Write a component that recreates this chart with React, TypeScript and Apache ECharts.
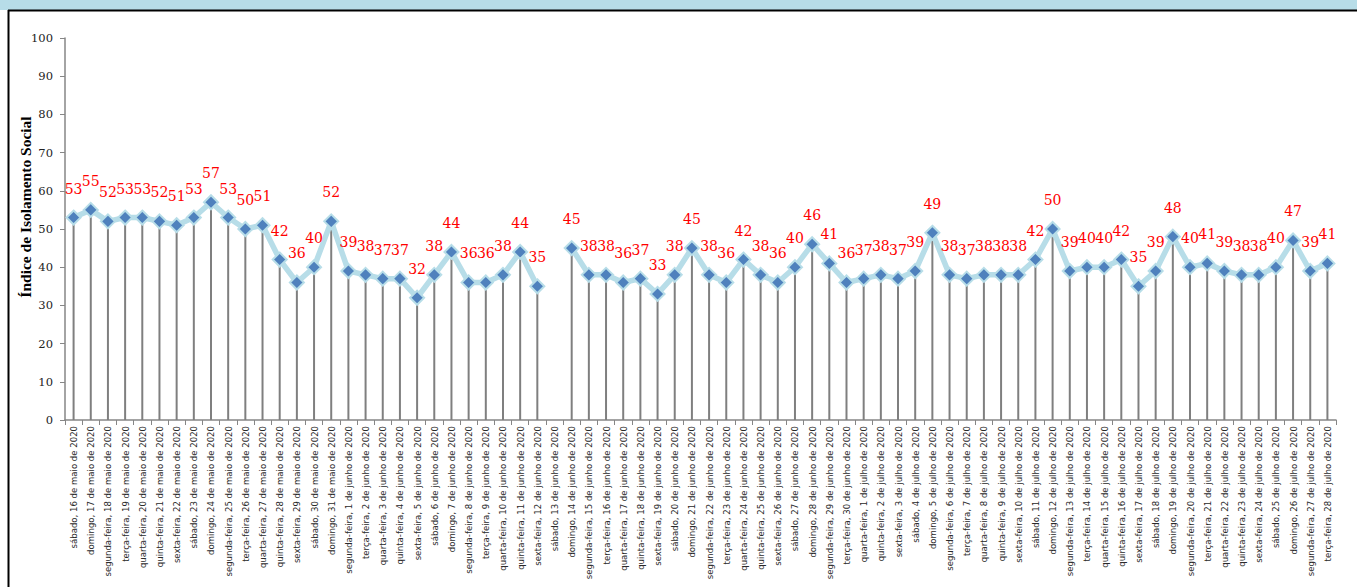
import React, { useEffect, useRef } from "react";
import * as echarts from "echarts";

const categories: string[] = [
  "sábado, 16 de maio de 2020",
  "domingo, 17 de maio de 2020",
  "segunda-feira, 18 de maio de 2020",
  "terça-feira, 19 de maio de 2020",
  "quarta-feira, 20 de maio de 2020",
  "quinta-feira, 21 de maio de 2020",
  "sexta-feira, 22 de maio de 2020",
  "sábado, 23 de maio de 2020",
  "domingo, 24 de maio de 2020",
  "segunda-feira, 25 de maio de 2020",
  "terça-feira, 26 de maio de 2020",
  "quarta-feira, 27 de maio de 2020",
  "quinta-feira, 28 de maio de 2020",
  "sexta-feira, 29 de maio de 2020",
  "sábado, 30 de maio de 2020",
  "domingo, 31 de maio de 2020",
  "segunda-feira, 1 de junho de 2020",
  "terça-feira, 2 de junho de 2020",
  "quarta-feira, 3 de junho de 2020",
  "quinta-feira, 4 de junho de 2020",
  "sexta-feira, 5 de junho de 2020",
  "sábado, 6 de junho de 2020",
  "domingo, 7 de junho de 2020",
  "segunda-feira, 8 de junho de 2020",
  "terça-feira, 9 de junho de 2020",
  "quarta-feira, 10 de junho de 2020",
  "quinta-feira, 11 de junho de 2020",
  "sexta-feira, 12 de junho de 2020",
  "sábado, 13 de junho de 2020",
  "domingo, 14 de junho de 2020",
  "segunda-feira, 15 de junho de 2020",
  "terça-feira, 16 de junho de 2020",
  "quarta-feira, 17 de junho de 2020",
  "quinta-feira, 18 de junho de 2020",
  "sexta-feira, 19 de junho de 2020",
  "sábado, 20 de junho de 2020",
  "domingo, 21 de junho de 2020",
  "segunda-feira, 22 de junho de 2020",
  "terça-feira, 23 de junho de 2020",
  "quarta-feira, 24 de junho de 2020",
  "quinta-feira, 25 de junho de 2020",
  "sexta-feira, 26 de junho de 2020",
  "sábado, 27 de junho de 2020",
  "domingo, 28 de junho de 2020",
  "segunda-feira, 29 de junho de 2020",
  "terça-feira, 30 de junho de 2020",
  "quarta-feira, 1 de julho de 2020",
  "quinta-feira, 2 de julho de 2020",
  "sexta-feira, 3 de julho de 2020",
  "sábado, 4 de julho de 2020",
  "domingo, 5 de julho de 2020",
  "segunda-feira, 6 de julho de 2020",
  "terça-feira, 7 de julho de 2020",
  "quarta-feira, 8 de julho de 2020",
  "quinta-feira, 9 de julho de 2020",
  "sexta-feira, 10 de julho de 2020",
  "sábado, 11 de julho de 2020",
  "domingo, 12 de julho de 2020",
  "segunda-feira, 13 de julho de 2020",
  "terça-feira, 14 de julho de 2020",
  "quarta-feira, 15 de julho de 2020",
  "quinta-feira, 16 de julho de 2020",
  "sexta-feira, 17 de julho de 2020",
  "sábado, 18 de julho de 2020",
  "domingo, 19 de julho de 2020",
  "segunda-feira, 20 de julho de 2020",
  "terça-feira, 21 de julho de 2020",
  "quarta-feira, 22 de julho de 2020",
  "quinta-feira, 23 de julho de 2020",
  "sexta-feira, 24 de julho de 2020",
  "sábado, 25 de julho de 2020",
  "domingo, 26 de julho de 2020",
  "segunda-feira, 27 de julho de 2020",
  "terça-feira, 28 de julho de 2020",
];

const valuesMay: (number | null)[] = [53, 55, 52, 53, 53, 52, 51, 53, 57, 53, 50, 51, 42, 36, 40, 52];
const valuesJune: (number | null)[] = [
  39, 38, 37, 37, 32, 38, 44, 36, 36, 38, 44, 35, null, 45, 38, 38, 36, 37, 33, 38,
  45, 38, 36, 42, 38, 36, 40, 46, 41, 36,
];
const valuesJuly: (number | null)[] = [
  37, 38, 37, 39, 49, 38, 37, 38, 38, 38, 42, 50, 39, 40, 40, 42, 35, 39, 48, 40,
  41, 39, 38, 38, 40, 47, 39, 41,
];

const yTicks = { min: 0, max: 100, interval: 10 };
const yAxisTitle = "Índice de Isolamento Social";

export default function App() {
  const ref = useRef<HTMLDivElement>(null);
  useEffect(() => {
    if (!ref.current) return;
    const chart = echarts.init(ref.current, null, { renderer: "svg" });
    const values = [...valuesMay, ...valuesJune, ...valuesJuly];
    chart.setOption({
      animation: false,
      backgroundColor: "#ffffff",
      grid: {
        left: 65,
        right: 21,
        top: 38,
        bottom: 167,
        containLabel: false,
        outerBoundsMode: "none",
      },
      graphic: [
        { type: "rect", shape: { x: 0, y: 0, width: 1357, height: 10 }, style: { fill: "#b7dde8" }, silent: true },
        { type: "line", shape: { x1: 8, y1: 10.5, x2: 1357, y2: 10.5 }, style: { stroke: "#000", lineWidth: 2 }, silent: true },
        { type: "line", shape: { x1: 8.5, y1: 10, x2: 8.5, y2: 587 }, style: { stroke: "#000", lineWidth: 2 }, silent: true },
      ],
      xAxis: {
        type: "category",
        data: categories,
        boundaryGap: true,
        axisLine: { lineStyle: { color: "#868686", width: 1.5 } },
        axisTick: { show: true, interval: 0, length: 5, lineStyle: { color: "#868686" } },
        axisLabel: {
          interval: 0,
          rotate: 90,
          fontSize: 9.5,
          fontFamily: "'Liberation Sans Narrow', 'DejaVu Sans Condensed', 'Liberation Sans', sans-serif",
          color: "#2a2a2a",
          margin: 6,
        },
        splitLine: { show: false },
      },
      yAxis: {
        type: "value",
        min: yTicks.min,
        max: yTicks.max,
        interval: yTicks.interval,
        name: yAxisTitle,
        nameLocation: "middle",
        nameGap: 32,
        nameRotate: 90,
        nameMoveOverlap: false,
        nameTextStyle: {
          fontFamily: "'Liberation Serif', serif",
          fontWeight: "bold",
          fontSize: 15.5,
          color: "#000",
          padding: [0, 0, 0, 44],
        },
        axisLine: { show: true, lineStyle: { color: "#868686", width: 1.5 } },
        axisTick: { show: true, length: 5, lineStyle: { color: "#868686" } },
        axisLabel: {
          fontFamily: "'DejaVu Serif', serif",
          fontSize: 11.5,
          color: "#222",
          margin: 12,
        },
        splitLine: { show: false },
      },
      series: [
        {
          type: "bar",
          data: values,
          barWidth: 2,
          itemStyle: { color: "#7f7f7f" },
          silent: true,
          z: 1,
        },
        {
          type: "line",
          data: values,
          connectNulls: false,
          lineStyle: { color: "#b7dde8", width: 5.5 },
          symbol: "diamond",
          symbolSize: 14,
          itemStyle: { color: "#4f81bd", borderColor: "#b7dde8", borderWidth: 2 },
          label: {
            show: true,
            position: "top",
            distance: 14,
            color: "#ff0000",
            fontFamily: "'DejaVu Serif', serif",
            fontSize: 14,
          },
          z: 3,
        },
      ],
    });
    return () => chart.dispose();
  }, []);
  return (
    <div
      ref={ref}
      style={{ position: "fixed", left: 0, top: 0, width: 1357, height: 587 }}
    />
  );
}
